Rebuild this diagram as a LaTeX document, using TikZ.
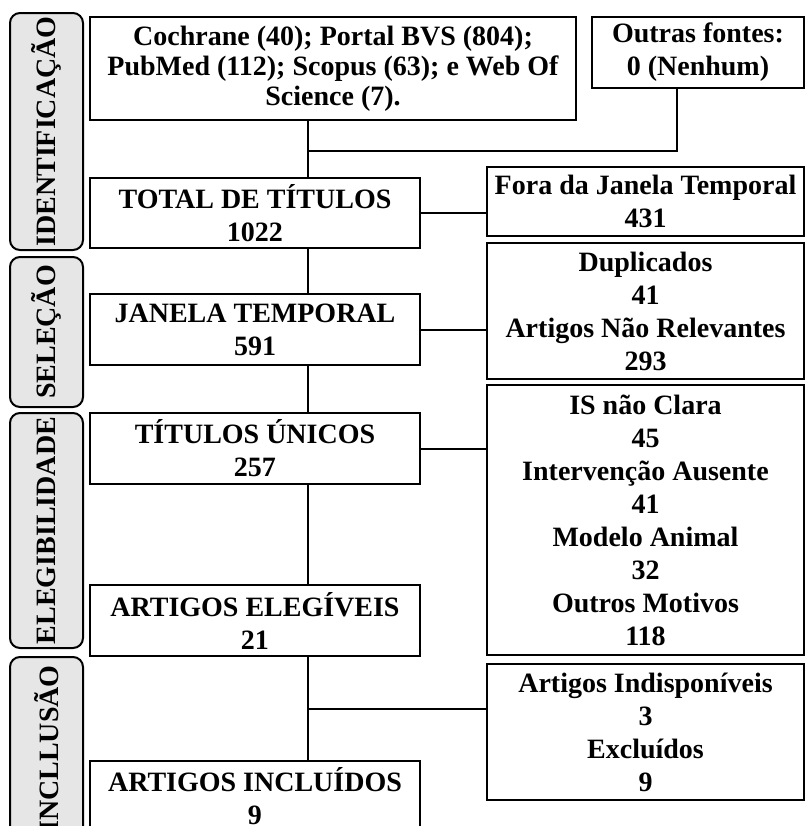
\documentclass[tikz,border=0pt]{standalone}
\usepackage{fontspec}
\setmainfont{Liberation Serif}
\definecolor{tabgray}{RGB}{230,230,230}
\tikzset{
  box/.style={draw,line width=1.5pt,inner sep=0pt,align=center,
    font=\bfseries\fontsize{21}{24.75}\selectfont},
  tab/.style={draw,line width=1.5pt,rounded corners=7.5pt,fill=tabgray,
    inner sep=0pt,rotate=90,minimum height=54.75pt,
    font=\bfseries\fontsize{21}{24}\selectfont},
  link/.style={line width=1.5pt}
}
\begin{document}
\begin{tikzpicture}[x=0.75pt,y=-0.75pt]
\useasboundingbox (0,0) rectangle (806,826);
\clip (0,0) rectangle (806,826);
\node[tab,minimum width=177.75pt] (ident) at (46.5,131.5) {IDENTIFICAÇÃO};
\node[tab,minimum width=112.5pt] (selec) at (46.5,332) {SELEÇÃO};
\node[tab,minimum width=176.25pt] (elegib) at (46.5,530.5) {ELEGIBILIDADE};
\node[tab,minimum width=137.25pt] (inclus) at (46.5,748.5) {INCLLUSÃO};
\node[box,minimum width=364.5pt,minimum height=77.25pt,
  font=\bfseries\fontsize{21}{22.5}\selectfont] (src) at (333,68.5)
  {Cochrane (40); Portal BVS (804);\\PubMed (112); Scopus (63); e Web Of\\Science (7).};
\node[box,minimum width=159pt,minimum height=53.25pt] (outras) at (698,52.5) {Outras fontes:\\0 (Nenhum)};
\node[box,minimum width=247.5pt,minimum height=52.5pt] (total) at (255,213) {TOTAL DE TÍTULOS\\1022};
\node[box,minimum width=247.5pt,minimum height=53.25pt] (janela) at (255,329.5) {JANELA TEMPORAL\\591};
\node[box,minimum width=247.5pt,minimum height=53.25pt] (unicos) at (255,448.5) {TÍTULOS ÚNICOS\\257};
\node[box,minimum width=247.5pt,minimum height=53.25pt] (elegiveis) at (255,620.5) {ARTIGOS ELEGÍVEIS\\21};
\node[box,minimum width=247.5pt,minimum height=52.5pt] (incluidos) at (255,796) {ARTIGOS INCLUÍDOS\\9};
\node[box,minimum width=237.75pt,minimum height=51.75pt] (fora) at (645.5,201.5) {Fora da Janela Temporal\\431};
\node[box,minimum width=237.75pt,minimum height=102pt] (dup) at (645.5,311) {Duplicados\\41\\Artigos Não Relevantes\\293};
\node[box,minimum width=237.75pt,minimum height=202.5pt] (motivos) at (645.5,520)
  {IS não Clara\\45\\Intervenção Ausente\\41\\Modelo Animal\\32\\Outros Motivos\\118};
\node[box,minimum width=237.75pt,minimum height=102pt] (indisp) at (645.5,732) {Artigos Indisponíveis\\3\\Excluídos\\9};
\coordinate (trunk) at (308,0);
\coordinate (join) at (308,151);
\coordinate (drop) at (677,151);
\coordinate (split) at (308,709);
\draw[link] (trunk |- src.south) -- (trunk |- total.north);
\draw[link] (drop |- outras.south) -- (drop) -- (join);
\draw[link] (total.east) -- (total.east -| fora.west);
\draw[link] (trunk |- total.south) -- (trunk |- janela.north);
\draw[link] (janela.east) -- (janela.east -| dup.west);
\draw[link] (trunk |- janela.south) -- (trunk |- unicos.north);
\draw[link] (unicos.east) -- (unicos.east -| motivos.west);
\draw[link] (trunk |- unicos.south) -- (trunk |- elegiveis.north);
\draw[link] (trunk |- elegiveis.south) -- (trunk |- incluidos.north);
\draw[link] (split) -- (split -| indisp.west);
\end{tikzpicture}
\end{document}
